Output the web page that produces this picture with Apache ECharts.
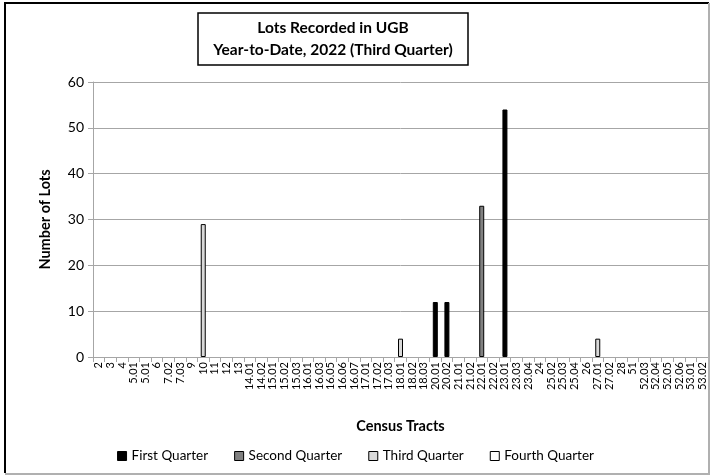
<!DOCTYPE html>
<html>
<head>
<meta charset="utf-8">
<script src="https://cdn.jsdelivr.net/npm/echarts@6/dist/echarts.min.js"></script>
<style>html,body{margin:0;padding:0;background:#fff;}#c{width:711px;height:476px;}</style>
</head>
<body>
<div id="c"></div>
<script>
const categories = ['2','3','4','5.01','5.01','6','7.02','7.03','9','10','11','12','13','14.01','14.02','15.01','15.02','15.03','16.01','16.03','16.05','16.06','16.07','17.01','17.02','17.03','18.01','18.02','18.03','20.01','20.02','21.01','21.02','22.01','22.02','23.01','23.03','23.04','24','25.02','25.03','25.04','26','27.01','27.02','28','51','52.03','52.04','52.05','52.06','53.01','53.02'];
const firstQuarter  = [0,0,0,0,0,0,0,0,0,0,0,0,0,0,0,0,0,0,0,0,0,0,0,0,0,0,0,0,0,12,12,0,0,0,0,54,0,0,0,0,0,0,0,0,0,0,0,0,0,0,0,0,0];
const secondQuarter = [0,0,0,0,0,0,0,0,0,0,0,0,0,0,0,0,0,0,0,0,0,0,0,0,0,0,0,0,0,0,0,0,0,33,0,0,0,0,0,0,0,0,0,0,0,0,0,0,0,0,0,0,0];
const thirdQuarter  = [0,0,0,0,0,0,0,0,0,29,0,0,0,0,0,0,0,0,0,0,0,0,0,0,0,0,4,0,0,0,0,0,0,0,0,0,0,0,0,0,0,0,0,4,0,0,0,0,0,0,0,0,0];
const fourthQuarter = [0,0,0,0,0,0,0,0,0,0,0,0,0,0,0,0,0,0,0,0,0,0,0,0,0,0,0,0,0,0,0,0,0,0,0,0,0,0,0,0,0,0,0,0,0,0,0,0,0,0,0,0,0];
const seriesNames = ['First Quarter','Second Quarter','Third Quarter','Fourth Quarter'];
const seriesColors = ['#000000','#808080','#d9d9d9','#ffffff'];
const yTicks = {min:0, max:60, interval:10};

const FONT = 'Lato';
const chart = echarts.init(document.getElementById('c'), null, {renderer:'canvas'});
const values = [firstQuarter, secondQuarter, thirdQuarter, fourthQuarter];
const hide = v => v === 0 ? '-' : v;

chart.setOption({
  animation:false,
  backgroundColor:'#ffffff',
  textStyle:{fontFamily:FONT},
  grid:{left:93, right:3, top:82, bottom:119, containLabel:false},
  legend:{
    bottom:8, left:'center', itemWidth:9, itemHeight:9, itemGap:26,
    icon:'rect',
    textStyle:{fontFamily:FONT, fontSize:13.5, color:'#000'},
    data:seriesNames.map((n,i)=>({name:n, itemStyle:{color:seriesColors[i], borderColor:'#000', borderWidth:1}}))
  },
  xAxis:{
    type:'category', data:categories,
    name:'Census Tracts', nameLocation:'middle', nameGap:62,
    nameTextStyle:{fontFamily:FONT, fontSize:14.5, fontWeight:'bold', color:'#000'},
    axisLine:{lineStyle:{color:'#a6a6a6'}},
    axisTick:{show:true, alignWithLabel:false, length:5, lineStyle:{color:'#a6a6a6'}},
    axisLabel:{rotate:90, interval:0, fontSize:11, color:'#000', fontFamily:FONT, margin:5}
  },
  yAxis:{
    type:'value', min:yTicks.min, max:yTicks.max, interval:yTicks.interval,
    name:'Number of Lots', nameLocation:'middle', nameGap:40,
    nameTextStyle:{fontFamily:FONT, fontSize:14.5, fontWeight:'bold', color:'#000'},
    axisLine:{show:true, lineStyle:{color:'#a6a6a6'}},
    axisTick:{show:true, length:5, lineStyle:{color:'#a6a6a6'}},
    axisLabel:{fontSize:14, color:'#000', fontFamily:FONT, margin:9},
    splitLine:{lineStyle:{color:'#a6a6a6'}}
  },
  series:seriesNames.map((n,i)=>({
    name:n, type:'bar', stack:'q', barWidth:5,
    itemStyle:{color:seriesColors[i], borderColor:'#000', borderWidth:1},
    data:values[i].map(hide)
  })),
  graphic:[
    {type:'polyline', shape:{points:[[5,473],[5,3],[709,3]]}, style:{stroke:'#000', lineWidth:2, fill:null}, z:10},
    {type:'polyline', shape:{points:[[709,3],[709,474],[5,474]]}, style:{stroke:'#b0b0b0', lineWidth:2, fill:null}, z:10},
    {type:'rect', shape:{x:198, y:13, width:270, height:52}, style:{stroke:'#000', lineWidth:1.5, fill:'#fff'}, z:10},
    {type:'text', x:333, y:28, style:{text:'Lots Recorded in UGB', font:'bold 15.5px '+FONT, fill:'#000', textAlign:'center', textVerticalAlign:'middle'}, z:11},
    {type:'text', x:333, y:50, style:{text:'Year-to-Date, 2022 (Third Quarter)', font:'bold 15.5px '+FONT, fill:'#000', textAlign:'center', textVerticalAlign:'middle'}, z:11}
  ]
});
</script>
</body>
</html>
